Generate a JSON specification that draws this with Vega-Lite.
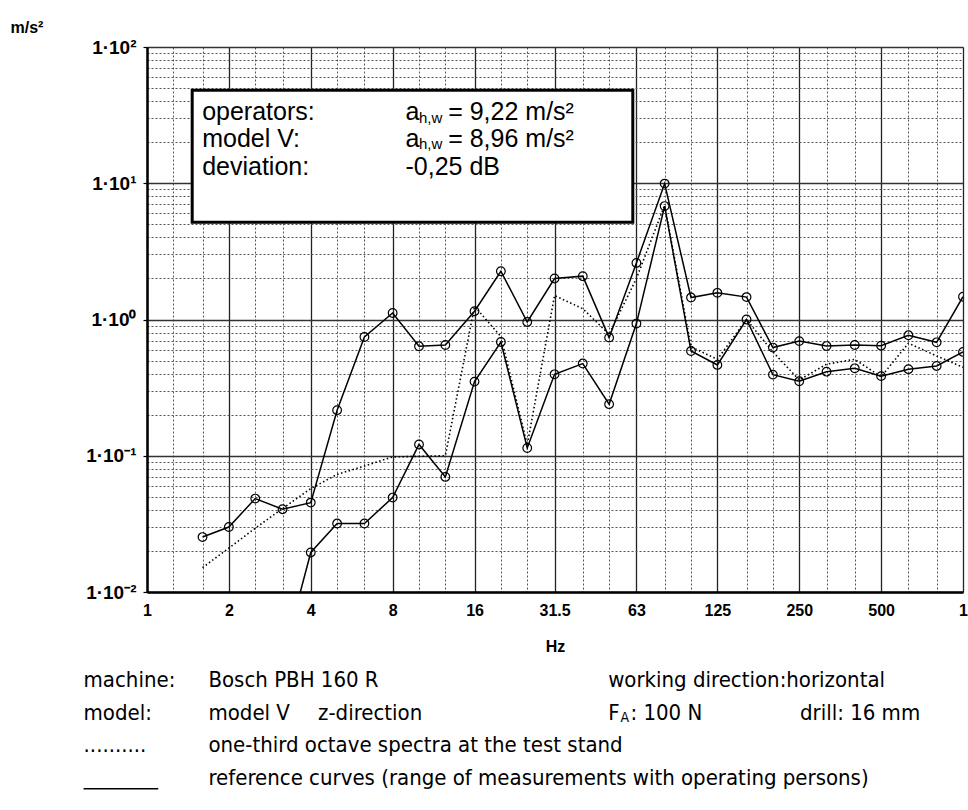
{
  "$schema": "https://vega.github.io/schema/vega-lite/v6.json",
  "width": 816,
  "height": 545,
  "autosize": {"type": "none"},
  "padding": {"left": 147, "top": 47, "right": 5, "bottom": 218},
  "background": "white",
  "config": {"view": {"stroke": null}, "font": "Liberation Sans"},
  "datasets": {
    "spectra": [
      {"hz": 1.6, "series": "max", "value": 0.0253},
      {"hz": 2, "series": "max", "value": 0.030},
      {"hz": 2.5, "series": "max", "value": 0.0485},
      {"hz": 3.15, "series": "max", "value": 0.0405},
      {"hz": 4, "series": "max", "value": 0.0453},
      {"hz": 5, "series": "max", "value": 0.216},
      {"hz": 6.3, "series": "max", "value": 0.744},
      {"hz": 8, "series": "max", "value": 1.116},
      {"hz": 10, "series": "max", "value": 0.636},
      {"hz": 12.5, "series": "max", "value": 0.65},
      {"hz": 16, "series": "max", "value": 1.15},
      {"hz": 20, "series": "max", "value": 2.26},
      {"hz": 25, "series": "max", "value": 0.959},
      {"hz": 31.5, "series": "max", "value": 2.0},
      {"hz": 40, "series": "max", "value": 2.08},
      {"hz": 50, "series": "max", "value": 0.736},
      {"hz": 63, "series": "max", "value": 2.6},
      {"hz": 80, "series": "max", "value": 9.94},
      {"hz": 100, "series": "max", "value": 1.45},
      {"hz": 125, "series": "max", "value": 1.57},
      {"hz": 160, "series": "max", "value": 1.46},
      {"hz": 200, "series": "max", "value": 0.622},
      {"hz": 250, "series": "max", "value": 0.694},
      {"hz": 315, "series": "max", "value": 0.638},
      {"hz": 400, "series": "max", "value": 0.65},
      {"hz": 500, "series": "max", "value": 0.642},
      {"hz": 630, "series": "max", "value": 0.766},
      {"hz": 800, "series": "max", "value": 0.68},
      {"hz": 1000, "series": "max", "value": 1.47},
      {"hz": 3.15, "series": "min", "value": 0.0032},
      {"hz": 4, "series": "min", "value": 0.0195},
      {"hz": 5, "series": "min", "value": 0.0318},
      {"hz": 6.3, "series": "min", "value": 0.0318},
      {"hz": 8, "series": "min", "value": 0.0493},
      {"hz": 10, "series": "min", "value": 0.121},
      {"hz": 12.5, "series": "min", "value": 0.0699},
      {"hz": 16, "series": "min", "value": 0.35},
      {"hz": 20, "series": "min", "value": 0.684},
      {"hz": 25, "series": "min", "value": 0.114},
      {"hz": 31.5, "series": "min", "value": 0.396},
      {"hz": 40, "series": "min", "value": 0.475},
      {"hz": 50, "series": "min", "value": 0.239},
      {"hz": 63, "series": "min", "value": 0.933},
      {"hz": 80, "series": "min", "value": 6.8},
      {"hz": 100, "series": "min", "value": 0.587},
      {"hz": 125, "series": "min", "value": 0.464},
      {"hz": 160, "series": "min", "value": 1.0},
      {"hz": 200, "series": "min", "value": 0.394},
      {"hz": 250, "series": "min", "value": 0.352},
      {"hz": 315, "series": "min", "value": 0.414},
      {"hz": 400, "series": "min", "value": 0.438},
      {"hz": 500, "series": "min", "value": 0.384},
      {"hz": 630, "series": "min", "value": 0.432},
      {"hz": 800, "series": "min", "value": 0.456},
      {"hz": 1000, "series": "min", "value": 0.578},
      {"hz": 1.6, "series": "test", "value": 0.0151},
      {"hz": 2, "series": "test", "value": 0.021},
      {"hz": 2.5, "series": "test", "value": 0.0294},
      {"hz": 3.15, "series": "test", "value": 0.041},
      {"hz": 4, "series": "test", "value": 0.0574},
      {"hz": 5, "series": "test", "value": 0.073},
      {"hz": 6.3, "series": "test", "value": 0.084},
      {"hz": 8, "series": "test", "value": 0.098},
      {"hz": 10, "series": "test", "value": 0.099},
      {"hz": 12.5, "series": "test", "value": 0.1},
      {"hz": 16, "series": "test", "value": 1.25},
      {"hz": 20, "series": "test", "value": 0.75},
      {"hz": 25, "series": "test", "value": 0.12},
      {"hz": 31.5, "series": "test", "value": 1.5},
      {"hz": 40, "series": "test", "value": 1.2},
      {"hz": 50, "series": "test", "value": 0.78},
      {"hz": 63, "series": "test", "value": 2.0},
      {"hz": 80, "series": "test", "value": 6.9},
      {"hz": 100, "series": "test", "value": 0.63},
      {"hz": 125, "series": "test", "value": 0.51},
      {"hz": 160, "series": "test", "value": 1.0},
      {"hz": 200, "series": "test", "value": 0.578},
      {"hz": 250, "series": "test", "value": 0.36},
      {"hz": 315, "series": "test", "value": 0.47},
      {"hz": 400, "series": "test", "value": 0.51},
      {"hz": 500, "series": "test", "value": 0.38},
      {"hz": 630, "series": "test", "value": 0.67},
      {"hz": 800, "series": "test", "value": 0.54},
      {"hz": 1000, "series": "test", "value": 0.446}
    ],
    "box": [{"x1": 1.466, "x2": 61.1, "y1": 48.1, "y2": 5.17}],
    "boxText": [
      {"t": "operators:", "hz": 1.595, "v": 28.97},
      {"t": "model V:", "hz": 1.595, "v": 18.45},
      {"t": "deviation:", "hz": 1.595, "v": 11.44},
      {"t": "a", "hz": 8.92, "v": 28.97},
      {"t": "= 9,22 m/s²", "hz": 12.8, "v": 28.97},
      {"t": "a", "hz": 8.92, "v": 18.45},
      {"t": "= 8,96 m/s²", "hz": 12.8, "v": 18.45},
      {"t": "-0,25 dB", "hz": 8.92, "v": 11.44}
    ],
    "boxSub": [
      {"t": "h,w", "hz": 10.0, "v": 27.6},
      {"t": "h,w", "hz": 10.0, "v": 17.75}
    ],
    "notes": [
      {"t": "machine:", "hz": 0.5845, "v": 0.002249},
      {"t": "Bosch PBH 160 R", "hz": 1.682, "v": 0.002249},
      {"t": "working direction:horizontal", "hz": 49.6, "v": 0.002249},
      {"t": "model:", "hz": 0.5845, "v": 0.001288},
      {"t": "model V", "hz": 1.682, "v": 0.001288},
      {"t": "z-direction", "hz": 4.254, "v": 0.001288},
      {"t": "F", "hz": 49.6, "v": 0.001288},
      {"t": ": 100 N", "hz": 59.9, "v": 0.001288},
      {"t": "drill: 16 mm", "hz": 251.6, "v": 0.001288},
      {"t": "..........", "hz": 0.5845, "v": 0.00075},
      {"t": "one-third octave spectra at the test stand", "hz": 1.682, "v": 0.00075},
      {"t": "reference curves (range of measurements with operating persons)", "hz": 1.682, "v": 0.00043}
    ],
    "notesSub": [
      {"t": "A", "hz": 55.07, "v": 0.001195}
    ],
    "legendLine": [{"x1": 0.5845, "x2": 1.1, "v": 0.00036}]
  },
  "layer": [
    {
      "data": {"name": "spectra"},
      "mark": {"type": "point", "opacity": 0},
      "encoding": {
        "x": {"field": "hz", "type": "quantitative",
              "scale": {"type": "log", "domain": [1, 1000], "nice": false},
              "axis": {"orient": "bottom", "values": [1.25, 1.6, 2.5, 3.15, 5, 6.3, 10, 12.5, 20, 25, 40, 50, 80, 100, 160, 200, 315, 400, 630, 800],
                       "grid": true, "gridDash": [2, 2], "gridColor": "#555", "gridWidth": 1,
                       "labels": false, "ticks": false, "domain": false, "title": null}},
        "y": {"field": "value", "type": "quantitative",
              "scale": {"type": "log", "domain": [0.01, 100], "nice": false},
              "axis": {"orient": "left", "values": [0.02, 0.03, 0.04, 0.05, 0.06, 0.07, 0.08, 0.09, 0.2, 0.3, 0.4, 0.5, 0.6, 0.7, 0.8, 0.9, 2, 3, 4, 5, 6, 7, 8, 9, 20, 30, 40, 50, 60, 70, 80, 90],
                       "grid": true, "gridDash": [2, 2], "gridColor": "#555", "gridWidth": 1,
                       "labels": false, "ticks": false, "domain": false, "title": null}}
      }
    },
    {
      "data": {"name": "spectra"},
      "mark": {"type": "point", "opacity": 0},
      "encoding": {
        "x": {"field": "hz", "type": "quantitative",
              "axis": {"orient": "bottom", "values": [1, 2, 4, 8, 16, 31.5, 63, 125, 250, 500, 1000],
                       "grid": true, "gridColor": "#222", "gridWidth": 1.3,
                       "domain": true, "domainColor": "black", "domainWidth": 2.5,
                       "ticks": false,
                       "labelExpr": "datum.value >= 1000 ? '1' : toString(datum.value)",
                       "labelFont": "Liberation Sans", "labelFontWeight": "bold", "labelFontSize": 16,
                       "labelColor": "black", "labelPadding": 10, "labelFlush": false, "labelOverlap": false,
                       "title": "Hz", "titleFont": "Liberation Sans", "titleFontWeight": "bold",
                       "titleFontSize": 16, "titleColor": "black", "titlePadding": 20}},
        "y": {"field": "value", "type": "quantitative",
              "axis": {"orient": "left", "values": [0.01, 0.1, 1, 10, 100],
                       "grid": true, "gridColor": "#333", "gridWidth": 1.5,
                       "domain": true, "domainColor": "black", "domainWidth": 2.5,
                       "ticks": true, "tickSize": 4, "tickColor": "black", "tickWidth": 1.2,
                       "labelExpr": "datum.value >= 100 ? '1·10²' : datum.value >= 10 ? '1·10¹' : datum.value >= 1 ? '1·10⁰' : datum.value >= 0.1 ? '1·10⁻¹' : '1·10⁻²'",
                       "labelFont": "Liberation Sans", "labelFontWeight": "bold", "labelFontSize": 19,
                       "labelColor": "black", "labelPadding": 7, "labelFlush": false, "labelOverlap": false,
                       "title": "m/s²", "titleAngle": 0, "titleX": -137, "titleY": -20,
                       "titleAlign": "left", "titleBaseline": "middle",
                       "titleFont": "Liberation Sans", "titleFontWeight": "bold", "titleFontSize": 16, "titleColor": "black"}}
      }
    },
    {
      "data": {"name": "box"},
      "mark": {"type": "rect", "fill": "white", "stroke": "black", "strokeWidth": 3},
      "encoding": {
        "x": {"field": "x1", "type": "quantitative", "axis": null},
        "x2": {"field": "x2"},
        "y": {"field": "y1", "type": "quantitative", "axis": null},
        "y2": {"field": "y2"}
      }
    },
    {
      "data": {"name": "boxText"},
      "mark": {"type": "text", "align": "left", "baseline": "alphabetic", "fontSize": 25, "font": "Liberation Sans", "color": "black"},
      "encoding": {
        "x": {"field": "hz", "type": "quantitative", "axis": null},
        "y": {"field": "v", "type": "quantitative", "axis": null},
        "text": {"field": "t"}
      }
    },
    {
      "data": {"name": "boxSub"},
      "mark": {"type": "text", "align": "left", "baseline": "alphabetic", "fontSize": 15, "font": "Liberation Sans", "color": "black"},
      "encoding": {
        "x": {"field": "hz", "type": "quantitative", "axis": null},
        "y": {"field": "v", "type": "quantitative", "axis": null},
        "text": {"field": "t"}
      }
    },
    {
      "data": {"name": "spectra"},
      "transform": [{"filter": "datum.series === 'test'"}],
      "mark": {"type": "line", "color": "black", "strokeWidth": 1.6, "strokeDash": [1.5, 2.5], "clip": true},
      "encoding": {
        "x": {"field": "hz", "type": "quantitative", "axis": null},
        "y": {"field": "value", "type": "quantitative", "axis": null}
      }
    },
    {
      "data": {"name": "spectra"},
      "transform": [{"filter": "datum.series !== 'test'"}],
      "mark": {"type": "line", "color": "black", "strokeWidth": 1.5, "clip": true},
      "encoding": {
        "x": {"field": "hz", "type": "quantitative", "axis": null},
        "y": {"field": "value", "type": "quantitative", "axis": null},
        "detail": {"field": "series"}
      }
    },
    {
      "data": {"name": "spectra"},
      "transform": [{"filter": "datum.series !== 'test'"}],
      "mark": {"type": "point", "shape": "circle", "filled": false, "size": 75, "stroke": "black", "strokeWidth": 1.2, "opacity": 1, "clip": true},
      "encoding": {
        "x": {"field": "hz", "type": "quantitative", "axis": null},
        "y": {"field": "value", "type": "quantitative", "axis": null}
      }
    },
    {
      "data": {"name": "notes"},
      "mark": {"type": "text", "align": "left", "baseline": "middle", "fontSize": 22, "font": "Liberation Sans Narrow, Arial Narrow, DejaVu Sans Condensed, sans-serif", "color": "black"},
      "encoding": {
        "x": {"field": "hz", "type": "quantitative", "axis": null},
        "y": {"field": "v", "type": "quantitative", "axis": null},
        "text": {"field": "t"}
      }
    },
    {
      "data": {"name": "notesSub"},
      "mark": {"type": "text", "align": "left", "baseline": "middle", "fontSize": 14, "font": "Liberation Sans Narrow, Arial Narrow, DejaVu Sans Condensed, sans-serif", "color": "black"},
      "encoding": {
        "x": {"field": "hz", "type": "quantitative", "axis": null},
        "y": {"field": "v", "type": "quantitative", "axis": null},
        "text": {"field": "t"}
      }
    },
    {
      "data": {"name": "legendLine"},
      "mark": {"type": "rule", "color": "black", "strokeWidth": 1.5},
      "encoding": {
        "x": {"field": "x1", "type": "quantitative", "axis": null},
        "x2": {"field": "x2"},
        "y": {"field": "v", "type": "quantitative", "axis": null}
      }
    }
  ],
  "resolve": {"axis": {"x": "independent", "y": "independent"}}
}
